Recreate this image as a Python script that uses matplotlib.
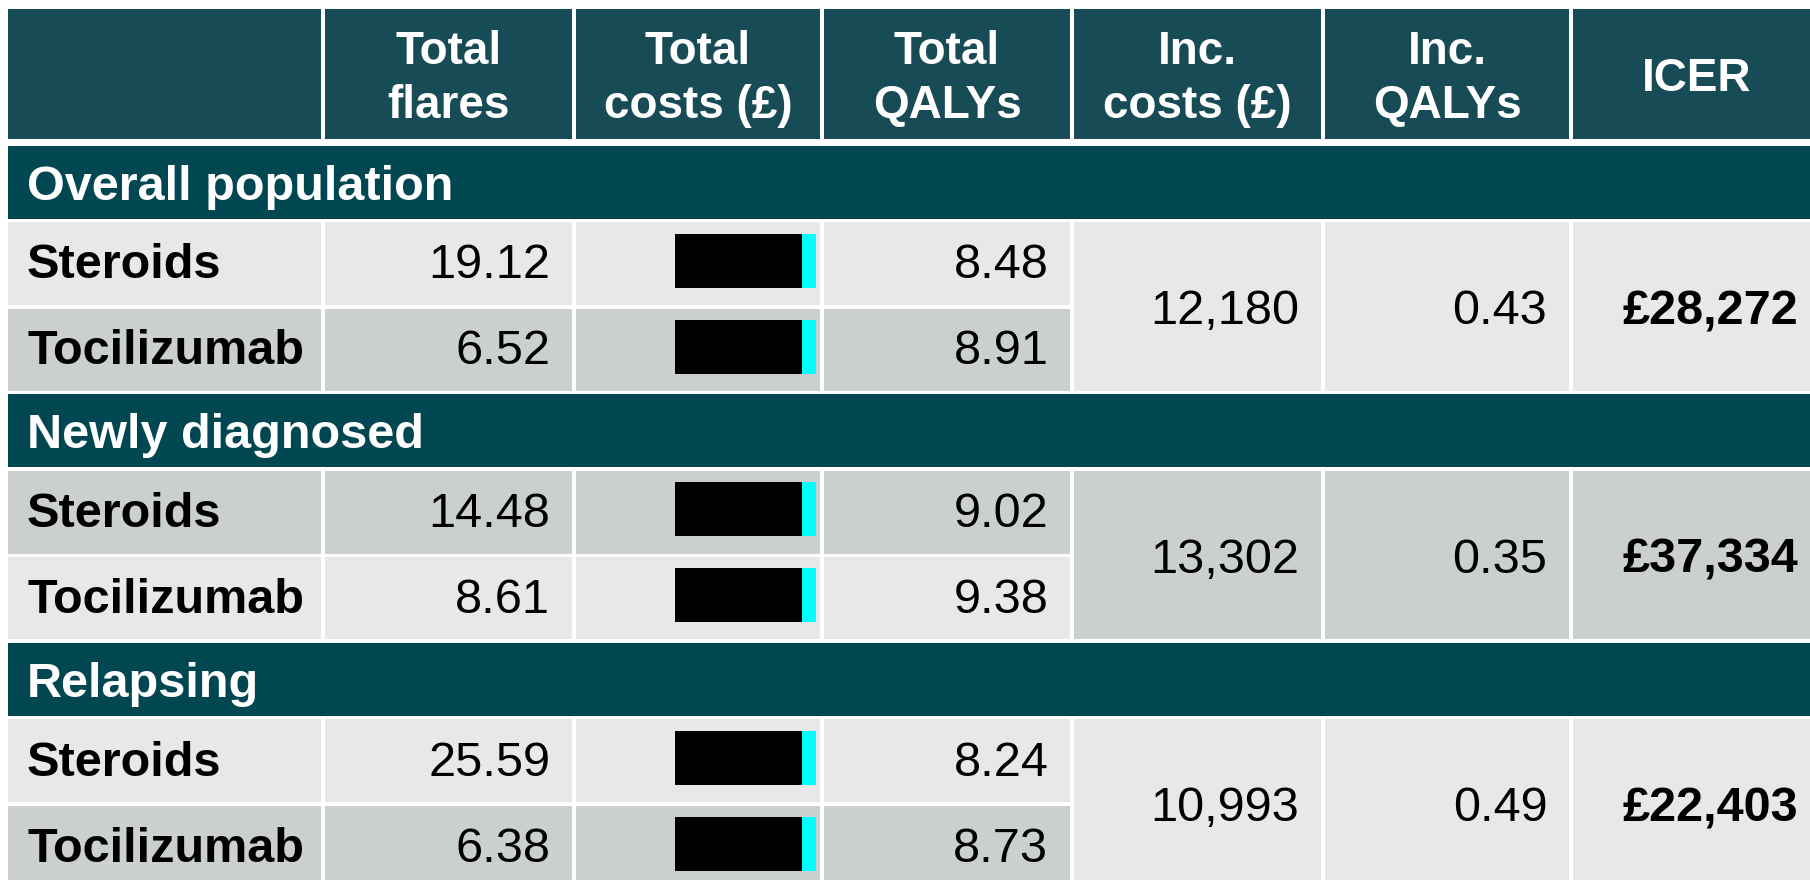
import matplotlib.pyplot as plt
from matplotlib.patches import Rectangle

plt.rcParams['font.family'] = ['Liberation Sans', 'DejaVu Sans']

# data
headers = ["", "Total\nflares", "Total\ncosts (£)", "Total\nQALYs", "Inc.\ncosts (£)", "Inc.\nQALYs", "ICER"]
groups = ["Overall population", "Newly diagnosed", "Relapsing"]
treatments = ["Steroids", "Tocilizumab"]
total_flares = [[19.12, 6.52], [14.48, 8.61], [25.59, 6.38]]
total_qalys = [[8.48, 8.91], [9.02, 9.38], [8.24, 8.73]]
inc_costs = [12180, 13302, 10993]
inc_qalys = [0.43, 0.35, 0.49]
icer = [28272, 37334, 22403]

# colours
head_col = "#174b56"
sect_col = "#014752"
light = "#e7e8e7"
dark = "#cbcfd0"
# row shading per group: (steroids row, tocilizumab row, merged cells)
shades = [(light, dark, light), (dark, light, dark), (light, dark, light)]

# layout in pixels
col_edges = [8, 323, 574, 822, 1072, 1323, 1571, 1822]
gap = 3.5
header_top, header_bot = 9, 139
sect_h, row_h = 73, 83
fs = 35
pad = 22

fig = plt.figure(figsize=(18.1, 8.8), dpi=100)
ax = fig.add_axes([0, 0, 1, 1])
ax.set_xlim(0, 1810)
ax.set_ylim(880, 0)
ax.axis("off")


def cell(c0, c1, y0, y1, color):
    x0 = col_edges[c0] + (gap / 2 if c0 > 0 else 0)
    x1 = col_edges[c1] - gap / 2
    ax.add_patch(Rectangle((x0, y0), x1 - x0, y1 - y0, color=color, lw=0))
    return x0, x1


# header
for i, h in enumerate(headers):
    x0, x1 = cell(i, i + 1, header_top, header_bot, head_col)
    ax.text((x0 + x1) / 2, 79, h, color="white", fontsize=33, fontweight="bold",
            ha="center", va="center", linespacing=1.28)

y = header_bot + 7
for g, name in enumerate(groups):
    # section title row
    cell(0, 7, y, y + sect_h, sect_col)
    ax.text(col_edges[0] + 19, y + sect_h / 2, name, color="white", fontsize=fs,
            fontweight="bold", ha="left", va="center_baseline")
    y += sect_h + gap
    rows_top = y
    for r, t in enumerate(treatments):
        h = row_h if r == 0 else row_h - 1
        shade = shades[g][r]
        mid = y + h / 2
        tm = mid - 3
        x0, x1 = cell(0, 1, y, y + h, shade)
        ax.text(x0 + 19, tm, t, fontsize=fs, fontweight="bold", ha="left", va="center_baseline")
        x0, x1 = cell(1, 2, y, y + h, shade)
        ax.text(x1 - pad, tm, f"{total_flares[g][r]:.2f}", fontsize=fs, ha="right", va="center_baseline")
        # redacted costs
        x0, x1 = cell(2, 3, y, y + h, shade)
        ax.add_patch(Rectangle((x1 - 145, mid - 30), 127, 54, color="black", lw=0))
        ax.add_patch(Rectangle((x1 - 18, mid - 30), 14, 54, color="cyan", lw=0))
        x0, x1 = cell(3, 4, y, y + h, shade)
        ax.text(x1 - pad, tm, f"{total_qalys[g][r]:.2f}", fontsize=fs, ha="right", va="center_baseline")
        y += h + gap
    rows_bot = y - gap
    mid = (rows_top + rows_bot) / 2
    merged = shades[g][2]
    x0, x1 = cell(4, 5, rows_top, rows_bot, merged)
    ax.text(x1 - pad, mid, f"{inc_costs[g]:,}", fontsize=fs, ha="right", va="center_baseline")
    x0, x1 = cell(5, 6, rows_top, rows_bot, merged)
    ax.text(x1 - pad, mid, f"{inc_qalys[g]:.2f}", fontsize=fs, ha="right", va="center_baseline")
    x0, x1 = cell(6, 7, rows_top, rows_bot, merged)
    ax.text(x1 - pad, mid, f"£{icer[g]:,}", fontsize=fs, fontweight="bold", ha="right", va="center_baseline")

fig.savefig("out.png", dpi=100, facecolor="white")
